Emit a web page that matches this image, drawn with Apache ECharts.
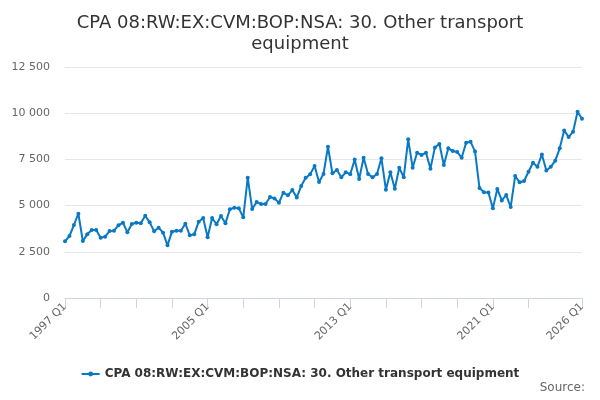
<!DOCTYPE html>
<html>
<head>
<meta charset="utf-8">
<script src="https://cdn.jsdelivr.net/npm/echarts@6/dist/echarts.min.js"></script>
<style>
    html, body { margin: 0; padding: 0; background: #fff; }
    #chart { width: 600px; height: 400px; }
</style>
</head>
<body>
<div id="chart"></div>
<script>
// ================* DATA *
const seriesName = 'CPA 08:RW:EX:CVM:BOP:NSA: 30. Other transport equipment';
const titleText = 'CPA 08:RW:EX:CVM:BOP:NSA: 30. Other transport\nequipment';

const startYear = 1997;
const endYear = 2026;

// quarterly values, 1997 Q1 .. 2026 Q1
const values = [
    3065, 3355, 3950, 4560, 3085, 3445, 3680, 3680, 3260, 3320,
    3625, 3640, 3930, 4075, 3555, 4005, 4075, 4040, 4450, 4095,
    3610, 3805, 3535, 2850, 3590, 3640, 3640, 4020, 3390, 3445,
    4130, 4330, 3290, 4330, 3990, 4436, 4040, 4800, 4885, 4850,
    4365, 6510, 4815, 5190, 5085, 5085, 5465, 5390, 5155, 5700,
    5555, 5840, 5445, 6060, 6510, 6690, 7140, 6275, 6710, 8185,
    6745, 6925, 6530, 6800, 6700, 7490, 6440, 7590, 6710, 6530,
    6710, 7560, 5860, 6800, 5910, 7050, 6530, 8585, 7050, 7860,
    7740, 7860, 7000, 8150, 8330, 7200, 8100, 7950, 7900, 7590,
    8400, 8450, 7930, 5950, 5720, 5710, 4850, 5900, 5280, 5570,
    4920, 6600, 6260, 6330, 6830, 7320, 7100, 7770, 6900, 7100,
    7430, 8100, 9070, 8710, 9000, 10080, 9700
];

// labelled categories on the x axis
const shownLabels = ['1997 Q1', '2005 Q1', '2013 Q1', '2021 Q1', '2026 Q1'];

let categories = [];
for (let y = startYear; y <= endYear; y++) {
    for (let q = 1; q <= 4; q++) {
        if (y === endYear && q > 1) break;
        categories.push(y + ' Q' + q);
    }
}

function fmtThousands(v) {
    return String(v).replace(/\B(?=(\d{3})+(?!\d))/g, ' ');
}

// ================* CHART *
var chart = echarts.init(document.getElementById('chart'));
var lastIdx = categories.length - 1;

option = {
    animation: false,
    textStyle: {
        fontFamily: 'DejaVu Sans'
    },
    title: [{
            text: titleText,
            left: 'center',
            top: 8,
            textStyle: {
                fontSize: 18,
                fontWeight: 'normal',
                color: '#333333',
                lineHeight: 21
            }
        },
        {
            text: 'Source:',
            right: 10,
            bottom: 1,
            textStyle: {
                fontSize: 12,
                fontWeight: 'normal',
                color: '#666666'
            }
        }
    ],
    legend: {
        bottom: 15,
        left: 'center',
        itemWidth: 18,
        itemHeight: 6,
        itemGap: 10,
        textStyle: {
            fontSize: 12,
            fontWeight: 'bold',
            color: '#333333'
        },
        data: [seriesName]
    },
    grid: {
        left: 65,
        right: 18,
        top: 67,
        bottom: 102
    },
    xAxis: {
        type: 'category',
        boundaryGap: false,
        data: categories,
        axisLine: {
            lineStyle: {
                color: '#ccd6eb'
            }
        },
        axisTick: {
            length: 10,
            interval: function (i) {
                return (i % 8 === 0 && i <= 104) || i === lastIdx;
            },
            lineStyle: {
                color: '#ccd6eb'
            }
        },
        axisLabel: {
            rotate: 45,
            fontSize: 11,
            color: '#666666',
            margin: 7,
            interval: function (i, val) {
                return shownLabels.indexOf(val) !== -1;
            }
        },
        splitLine: {
            show: false
        }
    },
    yAxis: {
        type: 'value',
        min: 0,
        max: 12500,
        interval: 2500,
        axisLine: {
            show: false
        },
        axisTick: {
            show: false
        },
        axisLabel: {
            fontSize: 11,
            color: '#666666',
            margin: 15,
            formatter: fmtThousands
        },
        splitLine: {
            lineStyle: {
                color: '#e6e6e6',
                width: 1
            }
        }
    },
    series: [{
        name: seriesName,
        type: 'line',
        data: values,
        symbol: 'circle',
        symbolSize: 4,
        showAllSymbol: true,
        lineStyle: {
            width: 2,
            color: '#0a79c5'
        },
        itemStyle: {
            color: '#0a79c5'
        }
    }]
};
chart.setOption(option);
</script>
</body>
</html>
